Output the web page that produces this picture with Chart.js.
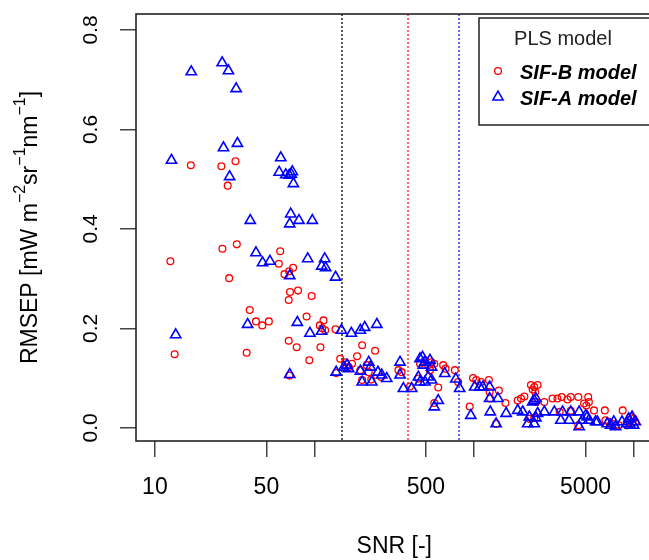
<!DOCTYPE html>
<html>
<head>
<meta charset="utf-8">
<script src="https://cdn.jsdelivr.net/npm/chart.js@4.4.1/dist/chart.umd.min.js"></script>
<style>
  html, body { margin: 0; padding: 0; background: #fff; overflow: hidden; }
  #wrap { width: 660px; height: 560px; }
</style>
</head>
<body>
<div id="wrap"><canvas id="rmsepChart" width="660" height="560"></canvas></div>
<script>
// SIF-B model (red circles)
var sifB_snr = [16.8, 26.1, 32, 28.6,
  12.5, 26.5, 32.6, 29.2, 61, 59.8, 64.9, 69.4, 73.5, 70.3, 78.9, 69, 96.1, 39.3, 43, 47.1, 51.8,
  89.3, 114, 108, 112, 116.7, 13.3, 37.6, 69, 77.4, 109, 92.9, 69.7, 136.8,
  135.5, 145, 199, 240, 185, 172, 156, 164, 194, 213, 219, 199, 227, 262, 336, 352, 397,
  459, 493, 516, 530, 448, 542, 564, 597, 564, 641, 663, 759, 795, 940, 986, 1033, 1110,
  1240, 1253, 1432, 1264, 1574, 1377, 1879, 1972, 2070, 2275, 2387, 2333, 2505, 2420, 2444, 2760,
  2222, 2387, 3105, 3334, 3548, 3855, 4040, 4508, 3443, 4040, 4508, 4900, 5060, 5250, 5200,
  5650, 6610, 6670, 7000, 7350, 7710, 8090, 8550, 9330, 9550, 9790, 10020, 10260, 9100];
var sifB_rmsep = [0.528, 0.526, 0.536, 0.487,
  0.335, 0.36, 0.369, 0.301, 0.355, 0.33, 0.309, 0.315, 0.322, 0.273, 0.276, 0.257, 0.265, 0.237, 0.214, 0.206, 0.214,
  0.224, 0.216, 0.206, 0.2, 0.196, 0.148, 0.151, 0.175, 0.162, 0.162, 0.136, 0.105, 0.11,
  0.198, 0.139, 0.166, 0.155, 0.144, 0.129, 0.132, 0.122, 0.116, 0.126, 0.112, 0.096, 0.097, 0.102, 0.116, 0.112, 0.083,
  0.129, 0.136, 0.126, 0.116, 0.099, 0.132, 0.129, 0.081, 0.05, 0.126, 0.119, 0.116, 0.092, 0.043, 0.1, 0.096, 0.092,
  0.096, 0.072, 0.075, 0.059, 0.05, 0.008, 0.055, 0.059, 0.063, 0.086, 0.082, 0.077, 0.086, 0.072, 0.052, 0.052,
  0.018, 0.02, 0.059, 0.059, 0.062, 0.057, 0.062, 0.062, 0.032, 0.034, 0.005, 0.049, 0.045, 0.052, 0.062,
  0.035, 0.035, 0.015, 0.012, 0.008, 0.005, 0.005, 0.035, 0.015, 0.022, 0.008, 0.018, 0.012, 0.005];

// SIF-A model (blue triangles)
var sifA_snr = [16.9, 26.4, 28.9, 32.3, 26.9, 32.9, 12.7, 29.4, 61.5, 60.1, 66.1, 72.7, 69.5, 71.5, 73.8,
  39.6, 71, 70, 80, 97, 43, 47.3, 52.6, 90.8, 116, 111, 117.5, 135.6, 70, 38.1, 78.1, 93.7, 110.8, 13.5, 70, 136.7,
  147.6, 170.4, 194, 206.5, 246, 153, 160, 164, 219, 224, 194, 199, 229, 250, 264, 284, 344, 344, 361, 407,
  459, 476, 493, 481, 448, 530, 542, 516, 542, 459, 493, 597, 564, 656, 769, 813, 1010, 1086, 1138, 955,
  1253, 1253, 1264, 1413, 1590, 1377, 1879, 2020, 2170, 2387, 2222, 2444, 2387, 2444, 2333, 2505, 2760,
  3187, 3589, 3501, 3946, 4040, 4560, 4560, 5012, 5130, 4775, 5250, 5930, 5780, 6840, 7180, 7520, 7710,
  8470, 9100, 9550, 10020, 10260, 9330, 9790];
var sifA_rmsep = [0.716, 0.734, 0.718, 0.682, 0.563, 0.572, 0.538, 0.505, 0.543, 0.514, 0.509, 0.515, 0.508, 0.51, 0.491,
  0.417, 0.43, 0.41, 0.417, 0.417, 0.352, 0.332, 0.335, 0.34, 0.34, 0.325, 0.322, 0.303, 0.306, 0.208, 0.212, 0.19, 0.194, 0.187, 0.107, 0.112,
  0.196, 0.19, 0.196, 0.202, 0.208, 0.122, 0.126, 0.119, 0.132, 0.122, 0.114, 0.092, 0.092, 0.112, 0.106, 0.099, 0.132, 0.106, 0.079, 0.079,
  0.139, 0.142, 0.132, 0.126, 0.102, 0.136, 0.122, 0.102, 0.096, 0.092, 0.092, 0.055, 0.042, 0.109, 0.098, 0.079, 0.082, 0.082, 0.082, 0.025,
  0.082, 0.059, 0.032, 0.059, 0.029, 0.008, 0.035, 0.032, 0.008, 0.008, 0.022, 0.02, 0.055, 0.059, 0.052, 0.029, 0.032,
  0.032, 0.032, 0.015, 0.015, 0.032, 0.032, 0.002, 0.025, 0.022, 0.015, 0.015, 0.012, 0.012, 0.008, 0.005, 0.012, 0.002,
  0.012, 0.008, 0.005, 0.005, 0.012, 0.018, 0.022];

// axes
var xTicks = [10, 50, 100, 500, 1000, 5000, 10000];
var xTickLabels = [10, 50, 500, 5000];
var yTicks = [0, 0.2, 0.4, 0.6, 0.8];

// SNR thresholds (dotted lines)
var thresholdSNR = [148, 385, 805];
var thresholdColors = ['#222222', '#ff3030', '#3030ff'];

var FONT = '"Liberation Sans", Arial, sans-serif';

function toPoints(xs, ys) {
  return xs.map(function(x, i) { return {x: x, y: ys[i]}; });
}

var thresholdPlugin = {
  id: 'thresholds',
  beforeDatasetsDraw: function(chart) {
    var ctx = chart.ctx, area = chart.chartArea, xs = chart.scales.x;
    ctx.save();
    ctx.lineWidth = 1.5;
    ctx.setLineDash([2, 2]);
    thresholdSNR.forEach(function(v, i) {
      var px = Math.round(xs.getPixelForValue(v));
      ctx.strokeStyle = thresholdColors[i];
      ctx.beginPath();
      ctx.moveTo(px, area.top);
      ctx.lineTo(px, area.bottom);
      ctx.stroke();
    });
    ctx.restore();
  }
};

var decorPlugin = {
  id: 'decor',
  afterDraw: function(chart) {
    var ctx = chart.ctx, area = chart.chartArea;
    var xs = chart.scales.x, ys = chart.scales.y;
    ctx.save();

    // box
    ctx.strokeStyle = '#222';
    ctx.lineWidth = 1.6;
    ctx.strokeRect(area.left, area.top, area.right - area.left, area.bottom - area.top);

    // x tick labels
    ctx.fillStyle = '#000';
    ctx.font = '23px ' + FONT;
    ctx.textAlign = 'center';
    ctx.textBaseline = 'middle';
    xTickLabels.forEach(function(v) {
      ctx.fillText(String(v), xs.getPixelForValue(v), 488);
    });

    // x title
    ctx.fillText('SNR [-]', (area.left + area.right) / 2, 547);

    // y tick labels (rotated)
    ctx.font = '21px ' + FONT;
    yTicks.forEach(function(v) {
      ctx.save();
      ctx.translate(91, ys.getPixelForValue(v));
      ctx.rotate(-Math.PI / 2);
      ctx.fillText(v.toFixed(1), 0, 0);
      ctx.restore();
    });

    // y title with superscripts
    var parts = [
      ['RMSEP [mW m', false], ['\u22122', true], ['sr', false],
      ['\u22121', true], ['nm', false], ['\u22121', true], [']', false]
    ];
    var mainFont = '23px ' + FONT, supFont = '16px ' + FONT;
    var total = 0;
    parts.forEach(function(p) {
      ctx.font = p[1] ? supFont : mainFont;
      total += ctx.measureText(p[0]).width;
    });
    ctx.save();
    ctx.translate(37, (area.top + area.bottom) / 2);
    ctx.rotate(-Math.PI / 2);
    ctx.textAlign = 'left';
    ctx.textBaseline = 'alphabetic';
    var cx = -total / 2;
    parts.forEach(function(p) {
      ctx.font = p[1] ? supFont : mainFont;
      ctx.fillText(p[0], cx, p[1] ? -12 : 0);
      cx += ctx.measureText(p[0]).width;
    });
    ctx.restore();

    // legend
    ctx.fillStyle = '#fff';
    ctx.fillRect(479, 18, 180, 107);
    ctx.strokeStyle = '#222';
    ctx.lineWidth = 1.5;
    ctx.strokeRect(479, 18, 180, 107);
    ctx.fillStyle = '#222';
    ctx.font = '20px ' + FONT;
    ctx.textAlign = 'center';
    ctx.textBaseline = 'middle';
    ctx.fillText('PLS model', 563, 39);

    ctx.fillStyle = '#000';
    ctx.font = 'italic bold 20px ' + FONT;
    ctx.textAlign = 'left';
    ctx.fillText('SIF-B model', 520, 73);
    ctx.fillText('SIF-A model', 520, 99);

    ctx.fillStyle = 'rgba(0,0,0,0)';
    ctx.strokeStyle = '#ff0000';
    ctx.lineWidth = 1.3;
    Chart.helpers.drawPoint(ctx, {pointStyle: 'circle', radius: 3.4, borderWidth: 1.3, rotation: 0}, 498, 71);
    ctx.strokeStyle = '#0000ff';
    ctx.lineWidth = 1.5;
    Chart.helpers.drawPoint(ctx, {pointStyle: 'triangle', radius: 6, borderWidth: 1.5, rotation: 0}, 498, 97);

    ctx.restore();
  }
};

var ctx = document.getElementById('rmsepChart').getContext('2d');
var chart = new Chart(ctx, {
  type: 'scatter',
  data: {
    datasets: [{
      label: 'SIF-A model',
      data: toPoints(sifA_snr, sifA_rmsep),
      pointStyle: 'triangle',
      pointRadius: 5.9,
      borderColor: '#0000ff',
      backgroundColor: 'rgba(0,0,0,0)',
      borderWidth: 1.6
    }, {
      label: 'SIF-B model',
      data: toPoints(sifB_snr, sifB_rmsep),
      pointStyle: 'circle',
      pointRadius: 3.4,
      borderColor: '#ff0000',
      backgroundColor: 'rgba(0,0,0,0)',
      borderWidth: 1.3
    }]
  },
  options: {
    responsive: false,
    animation: false,
    events: [],
    layout: { padding: { left: 0, right: 4.4, top: 14, bottom: 0 } },
    plugins: { legend: { display: false }, tooltip: { enabled: false } },
    scales: {
      x: {
        type: 'logarithmic',
        min: 7.613,
        max: 13150,
        afterBuildTicks: function(s) { s.ticks = xTicks.map(function(v) { return {value: v}; }); },
        afterFit: function(s) { s.height = 119; },
        ticks: { display: false },
        grid: { drawOnChartArea: false, drawTicks: true, tickLength: 16, color: '#444', lineWidth: 1.5 },
        border: { display: false }
      },
      y: {
        type: 'linear',
        min: -0.0265,
        max: 0.8322,
        afterBuildTicks: function(s) { s.ticks = yTicks.map(function(v) { return {value: v}; }); },
        afterFit: function(s) { s.width = 136; },
        ticks: { display: false },
        grid: { drawOnChartArea: false, drawTicks: true, tickLength: 16, color: '#444', lineWidth: 1.5 },
        border: { display: false }
      }
    }
  },
  plugins: [thresholdPlugin, decorPlugin]
});
</script>
</body>
</html>
